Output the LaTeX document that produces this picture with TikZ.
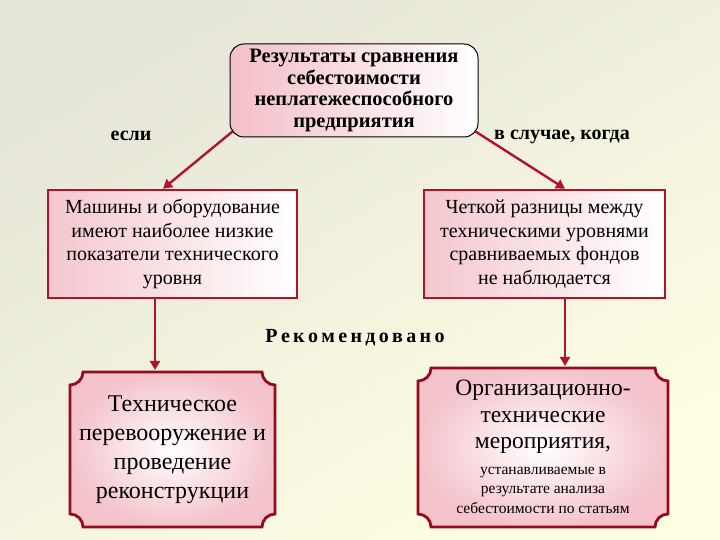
\documentclass[tikz,border=0pt]{standalone}
\usepackage{fontspec}
\setmainfont{Liberation Serif}
\usetikzlibrary{arrows.meta}
\definecolor{bred}{RGB}{175,20,45}
\definecolor{dred}{RGB}{150,10,30}
\definecolor{pinkf}{RGB}{240,175,185}
\tikzset{
 box/.style={draw=bred,line width=2.6pt,left color=pinkf!70,right color=white,align=center,inner sep=2pt},
 conn/.style={draw=bred,line width=2.4pt,-{Triangle[length=9pt,width=10pt]}},
 lbl/.style={font=\fontsize{20}{22}\selectfont\bfseries}
}
\begin{document}
\begin{tikzpicture}[x=1pt,y=1pt]
\useasboundingbox (0,0) rectangle (720,540);
\shade[left color=black!20,right color=yellow!12!white,shading angle=30] (0,0) rectangle (720,540);
\fill[yellow!10!white,opacity=0.5] (0,0) rectangle (720,540);
% top
\node[draw=black,line width=1pt,rounded corners=14pt,left color=pinkf!80,right color=white,
 minimum width=248pt,minimum height=93pt,align=center,inner sep=0pt,
 font=\fontsize{20.5}{21.5}\selectfont\bfseries] (top) at (354,449.5)
 {Результаты сравнения\\себестоимости\\неплатежеспособного\\предприятия};
% left/right
\node[box,minimum width=249pt,minimum height=108pt,font=\fontsize{20}{23.5}\selectfont] (L) at (172.5,296)
 {Машины и оборудование\\имеют наиболее низкие\\показатели технического\\уровня};
\node[box,minimum width=241pt,minimum height=108pt,font=\fontsize{20}{23.5}\selectfont] (R) at (544.5,296)
 {Четкой разницы между\\техническими уровнями\\сравниваемых фондов\\не наблюдается};
\node[lbl] (if) at (131,404) {если};
\node[lbl] (when) at (562,403) {в случае, когда};
\node[font=\fontsize{20}{22}\selectfont\bfseries] (rec) at (355,202) {Р\,е\,к\,о\,м\,е\,н\,д\,о\,в\,а\,н\,о};
% bottom boxes
\def\r{13}
\shade[draw=dred,line width=2.8pt,inner color=white,outer color=pinkf!75]
 (70+\r,168) -- (275-\r,168) arc[start angle=180,end angle=270,radius=\r]
 -- (275,13+\r) arc[start angle=90,end angle=180,radius=\r]
 -- (70+\r,13) arc[start angle=0,end angle=90,radius=\r]
 -- (70,168-\r) arc[start angle=270,end angle=360,radius=\r] -- cycle;
\shade[draw=dred,line width=2.8pt,inner color=white,outer color=pinkf!75]
 (418+\r,172) -- (668-\r,172) arc[start angle=180,end angle=270,radius=\r]
 -- (668,13+\r) arc[start angle=90,end angle=180,radius=\r]
 -- (418+\r,13) arc[start angle=0,end angle=90,radius=\r]
 -- (418,172-\r) arc[start angle=270,end angle=360,radius=\r] -- cycle;
\node[align=center,font=\fontsize{24}{29}\selectfont] (BL) at (172.5,90)
 {Техническое\\перевооружение и\\проведение\\реконструкции};
\node[align=center,font=\fontsize{23.5}{26.5}\selectfont] (BR1) at (543,123)
 {Организационно-\\технические\\мероприятия,};
\node[align=center,font=\fontsize{15.5}{19.5}\selectfont] (BR2) at (543,50)
 {устанавливаемые в\\результате анализа\\себестоимости по статьям};
\coordinate (blt) at (155,170);
\coordinate (brt) at (565,174);
% connectors
\draw[conn] (top.south west) ++(3,6) coordinate (tl) -- (L.north -| 163,0) ;
\draw[conn] (top.south east) ++(-3,6) coordinate (tr) -- (R.north -| 565,0);
\draw[conn] (L.south -| 155,0) -- (blt);
\draw[conn] (R.south -| 565,0) -- (brt);
\end{tikzpicture}
\end{document}
